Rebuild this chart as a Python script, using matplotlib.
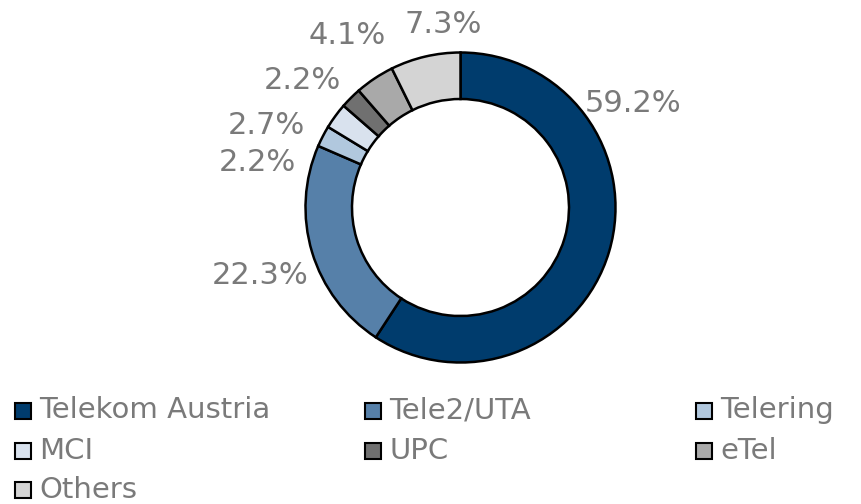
import matplotlib.pyplot as plt
from matplotlib.patches import Rectangle

# market share data
empresas = ['Telekom Austria', 'Tele2/UTA', 'Telering', 'MCI', 'UPC', 'eTel', 'Others']
cuotas = [59.2, 22.3, 2.2, 2.7, 2.2, 4.1, 7.3]
colores = ['#003c6d', '#5680a9', '#b1c8de', '#d9e2ee', '#707070', '#a9a9a9', '#d4d4d4']

# label centres in pie units (radius 1), placed by hand like in the original
pos_etiquetas = [(1.11, 0.67), (-1.29, -0.44), (-1.31, 0.29), (-1.25, 0.53),
                 (-1.02, 0.82), (-0.73, 1.11), (-0.11, 1.18)]

W, H = 861, 504
fig = plt.figure(figsize=(W / 100, H / 100), dpi=100)

# axes box so that radius 1 = 155 px, centre at (460.5, 207.5)
cx, cy, r = 460.5, 207.5, 155
ax = fig.add_axes([(cx - r) / W, (H - cy - r) / H, 2 * r / W, 2 * r / H])
ax.pie(cuotas, colors=colores, startangle=90, counterclock=False, radius=1,
       wedgeprops=dict(width=0.3, edgecolor='black', linewidth=1.8))
ax.set_xlim(-1, 1)
ax.set_ylim(-1, 1)
ax.set_aspect('equal')
ax.axis('off')

gris = '#7a7a7a'
for v, (x, y) in zip(cuotas, pos_etiquetas):
    ax.text(x, y, f'{v:.1f}%', ha='center', va='center', fontsize=22,
            color=gris, clip_on=False)

# legend, three columns filled row by row
col_x = [15, 365, 696]
fila_y = [410.5, 451, 490]
lado = 16
for i, (nombre, c) in enumerate(zip(empresas, colores)):
    x = col_x[i % 3]
    y = fila_y[i // 3]
    fig.patches.append(Rectangle((x / W, (H - y - lado / 2) / H), lado / W, lado / H,
                                 facecolor=c, edgecolor='black', linewidth=1.5,
                                 transform=fig.transFigure, figure=fig))
    fig.text((x + lado + 8) / W, (H - y) / H, nombre, ha='left', va='center',
             fontsize=21, color=gris)

fig.savefig('out.png', dpi=100)
